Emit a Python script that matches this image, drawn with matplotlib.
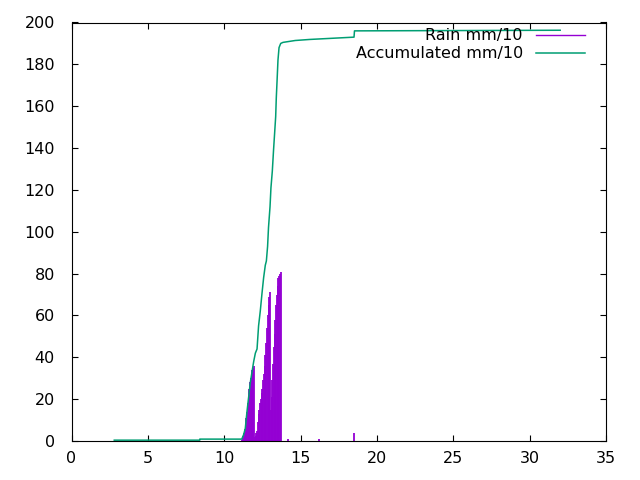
import numpy as np
import matplotlib
matplotlib.use("Agg")
import matplotlib.pyplot as plt

# --- data ---
# rain impulses (time, mm/10)
rain_t = [11.15, 11.20, 11.25, 11.30, 11.35, 11.40, 11.45, 11.50, 11.55, 11.60,
          11.65, 11.70, 11.75, 11.80, 11.85, 11.90, 11.95,
          12.00, 12.05, 12.10, 12.15, 12.20, 12.25, 12.30, 12.35, 12.40,
          12.45, 12.50, 12.55, 12.60, 12.65, 12.70, 12.75, 12.80, 12.85,
          12.90, 12.95, 13.00,
          13.05, 13.10, 13.15, 13.20, 13.25, 13.30, 13.35, 13.40, 13.45,
          13.50, 13.55, 13.60, 13.65,
          13.75, 14.20, 16.20, 18.53]
rain_v = [0.5, 1.5, 2.5, 4, 5.5, 7, 11, 14, 18, 21,
          25, 28, 30, 32, 34, 35, 36,
          2, 2.5, 4, 5, 9, 13, 15, 18, 20,
          23, 25, 29, 32, 36, 41, 47, 54, 60,
          65, 69, 71,
          15, 21, 29, 37, 45, 51, 58, 65, 70,
          74, 78, 79, 80,
          81, 1, 0.8, 4]

# accumulated (time, mm/10)
acc_t = [2.8, 8.4, 8.4, 11.15, 11.27, 11.38, 11.49, 11.60, 11.71, 11.82,
         11.93, 12.04, 12.15, 12.25, 12.36, 12.48, 12.58, 12.69, 12.76,
         12.84, 12.90, 13.00, 13.06, 13.15, 13.23, 13.30, 13.37, 13.41,
         13.46, 13.52, 13.59, 13.70, 13.85, 14.65, 15.60, 18.50, 18.53, 32.0]
acc_v = [0.4, 0.4, 0.9, 0.9, 3, 6, 14, 21, 28, 33,
         38, 42, 44, 55, 62, 71, 78, 84, 86,
         93, 102, 112, 121, 129, 139, 147, 155, 164,
         172, 182, 188, 190, 190.5, 191.4, 191.9, 193, 196, 196.3]

rain_color = "#9400d3"
acc_color = "#009e73"

plt.rcParams["font.family"] = ["DejaVu Sans"]
plt.rcParams["font.size"] = 11.5

fig = plt.figure(figsize=(6.4, 4.8), dpi=100)
ax = fig.add_axes([71.5 / 640, 39 / 480, (606 - 71.5) / 640, (441 - 22.5) / 480])

ax.vlines(rain_t, 0, rain_v, color=rain_color, linewidth=1.3)
ax.plot([], [], color=rain_color, linewidth=1, label="Rain mm/10")
ax.plot(acc_t, acc_v, color=acc_color, linewidth=1.1, label="Accumulated mm/10")

ax.set_xlim(0, 35)
ax.set_ylim(0, 200)
ax.set_xticks(np.arange(0, 36, 5))
ax.set_yticks(np.arange(0, 201, 20))
ax.tick_params(direction="in", length=4.5, width=0.8, top=True, right=True,
               colors="black", labelsize=11.5)
ax.tick_params(axis="y", pad=12)
ax.tick_params(axis="x", pad=7)
for s in ax.spines.values():
    s.set_linewidth(0.8)

ax.legend(loc="upper right", bbox_to_anchor=(0.9607, 0.9864), frameon=False,
          markerfirst=False, borderpad=0, borderaxespad=0, handlelength=3.06,
          handletextpad=0.83, labelspacing=0.2, fontsize=11.5)

fig.savefig("out.png", dpi=100)
